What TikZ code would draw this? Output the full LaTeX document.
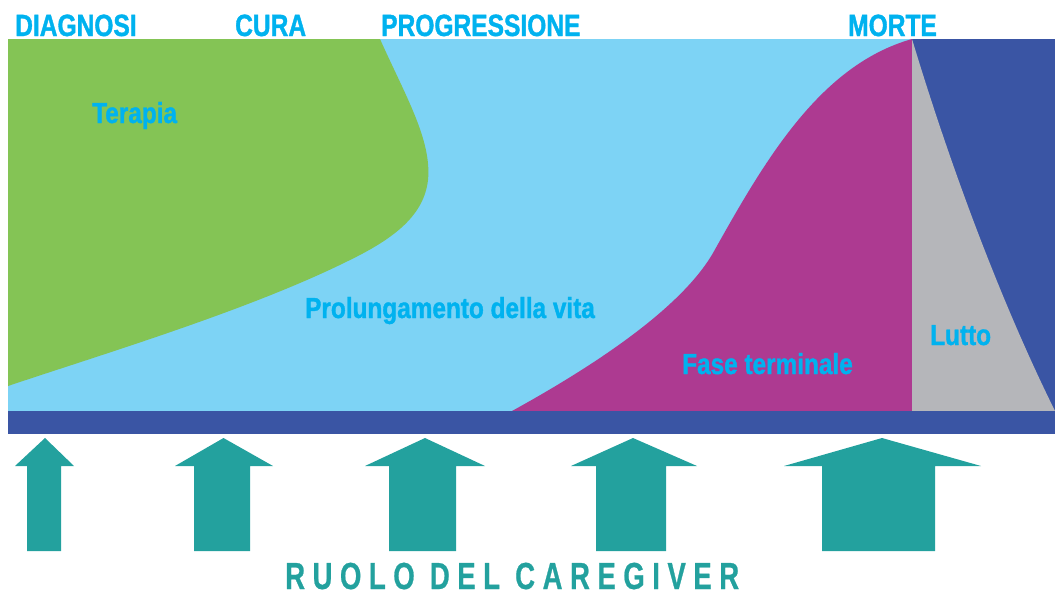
\documentclass[tikz,border=0pt]{standalone}
\usepackage{fontspec}
\newfontfamily\condfont[FakeStretch=0.80,FakeBold=1.2]{Liberation Sans Bold}
\newfontfamily\labelfont[FakeStretch=0.84,FakeBold=1.2]{Liberation Sans Bold}
\newfontfamily\ruolofont[FakeStretch=0.73,LetterSpace=20,FakeBold=0.6]{Liberation Sans Bold}
\definecolor{cgreen}{RGB}{132,196,85}
\definecolor{clight}{RGB}{125,211,245}
\definecolor{cmag}{RGB}{173,58,145}
\definecolor{cgrey}{RGB}{181,182,186}
\definecolor{cdark}{RGB}{58,85,164}
\definecolor{ctext}{RGB}{0,178,239}
\definecolor{cteal}{RGB}{35,161,158}
\newcommand\uparr[7]{% tip x, tip y, head base y, head L, head R, shaft L, shaft R
  \fill[arrowfill] (#1,#2) -- (#5,#3) -- (#7,#3) -- (#7,551) -- (#6,551) -- (#6,#3) -- (#4,#3) -- cycle;}
\begin{document}
\begin{tikzpicture}[x=1pt,y=-1pt,
  title/.style={anchor=base west,inner sep=0pt,text=ctext,font=\condfont\fontsize{30.7}{32}\selectfont},
  label/.style={anchor=base west,inner sep=0pt,text=ctext,font=\labelfont\fontsize{29}{30}\selectfont},
  arrowfill/.style={fill=cteal}]
\useasboundingbox (0,0) rectangle (1055,592);
% background regions
\fill[clight] (8,39) rectangle (1055,411);
\fill[cgreen] (8,39) -- (380,39) .. controls (405,95) and (432,140) .. (428,180)
  .. controls (424,215) and (395,238) .. (350,260)
  .. controls (250,310) and (100,355) .. (8,386) -- cycle;
\fill[cmag] (512,411) .. controls (590,368) and (680,310) .. (713,253)
  .. controls (765,160) and (820,65) .. (912,39) -- (912,411) -- cycle;
\fill[cdark] (912,39) rectangle (1055,411);
\fill[cgrey] (912,39) .. controls (950,165) and (1000,300) .. (1055,411) -- (912,411) -- cycle;
\fill[cdark] (8,411) rectangle (1055,434);
% titles
\node[title] (diag) at (15,36) {DIAGNOSI};
\node[title] (cura) at (235,36) {CURA};
\node[title] (prog) at (381,36) {PROGRESSIONE};
\node[title] (morte) at (848,36) {MORTE};
% labels
\node[label] (ter) at (92,123) {Terapia};
\node[label] (prol) at (305,318) {Prolungamento della vita};
\node[label] (fase) at (682,374) {Fase terminale};
\node[label] (lutto) at (930,345) {Lutto};
% arrows
\uparr{45}{438}{466}{15}{74}{27}{61}
\uparr{223.5}{438}{466}{175}{273}{194}{250}
\uparr{425}{438}{466}{365}{485}{389}{456}
\uparr{633}{438}{466}{571}{697}{596}{666}
\uparr{882}{438}{466}{784}{981}{822}{935}
\node[anchor=base west,inner sep=0pt,text=cteal,font=\ruolofont\fontsize{37.7}{38}\selectfont] (ruolo) at (285,589) {RUOLO DEL CAREGIVER};
\end{tikzpicture}
\end{document}
